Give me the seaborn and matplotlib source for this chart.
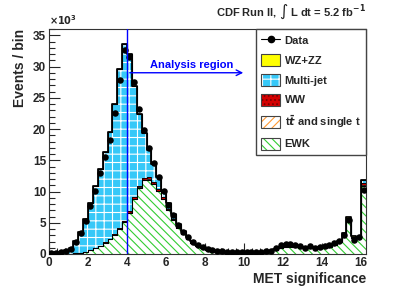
import numpy as np
import pandas as pd
import seaborn as sns
import matplotlib.pyplot as plt
from matplotlib.patches import Patch
from matplotlib.lines import Line2D
from matplotlib.ticker import MultipleLocator

# MET significance histogram, 0.25 wide bins from 0 to 16.25 (last = overflow), values in 10^3 events
data = [0.1, 0.2, 0.3, 0.5, 0.8, 1.9, 3.4, 5.3, 7.7, 10.1,
        12.9, 15.5, 18.3, 22.5, 27.9, 32.7, 31.6, 27.6, 23.2, 19.8,
        16.9, 14.6, 12.4, 10.1, 7.8, 6.2, 4.6, 3.5, 2.7, 2.0,
        1.4, 1.1, 0.8, 0.6, 0.5, 0.45, 0.4, 0.4, 0.35, 0.35,
        0.4, 0.35, 0.4, 0.4, 0.45, 0.55, 1.0, 1.4, 1.6, 1.6,
        1.5, 1.3, 1.0, 1.3, 1.0, 1.2, 1.3, 1.4, 1.7, 2.1,
        3.0, 5.4, 2.2, 2.8, 10.3]

ewk = [0, 0, 0, 0.02, 0.05, 0.1, 0.2, 0.35, 0.6, 0.9,
       1.3, 1.8, 2.4, 3.1, 4.0, 5.1, 6.6, 8.8, 10.6, 11.8,
       11.9, 11.2, 10.1, 8.8, 7.0, 5.5, 4.2, 3.2, 2.4, 1.8,
       1.3, 0.9, 0.6, 0.4, 0.3, 0.2, 0.15, 0.1, 0.1, 0.08,
       0.08, 0.1, 0.1, 0.15, 0.2, 0.4, 0.6, 0.9, 1.1, 1.2,
       1.1, 1.0, 0.9, 1.0, 0.9, 1.0, 1.0, 1.2, 1.4, 1.9,
       3.1, 5.6, 2.6, 2.5, 10.9]

ttbar = [0, 0, 0, 0, 0, 0, 0, 0, 0, 0,
         0.01, 0.01, 0.02, 0.02, 0.03, 0.03, 0.04, 0.04, 0.05, 0.05,
         0.05, 0.05, 0.05, 0.05, 0.05, 0.04, 0.04, 0.04, 0.03, 0.03,
         0.03, 0.03, 0.02, 0.02, 0.02, 0.02, 0.02, 0.02, 0.02, 0.02,
         0.02, 0.02, 0.02, 0.02, 0.02, 0.02, 0.03, 0.03, 0.03, 0.03,
         0.03, 0.03, 0.03, 0.03, 0.03, 0.03, 0.03, 0.03, 0.04, 0.04,
         0.05, 0.06, 0.05, 0.05, 0.15]

ww = [0, 0, 0, 0, 0, 0, 0, 0.01, 0.02, 0.03,
      0.04, 0.05, 0.06, 0.08, 0.1, 0.15, 0.2, 0.25, 0.3, 0.3,
      0.3, 0.25, 0.2, 0.2, 0.15, 0.1, 0.08, 0.06, 0.05, 0.04,
      0.03, 0.03, 0.02, 0.02, 0.02, 0.02, 0.02, 0.02, 0.02, 0.02,
      0.02, 0.02, 0.02, 0.02, 0.02, 0.02, 0.02, 0.03, 0.03, 0.03,
      0.03, 0.03, 0.03, 0.03, 0.03, 0.03, 0.03, 0.03, 0.03, 0.04,
      0.05, 0.08, 0.05, 0.05, 0.35]

multijet = [0.15, 0.25, 0.35, 0.58, 0.95, 2.0, 3.4, 5.25, 7.6, 9.9,
            12.2, 14.5, 17.0, 20.8, 25.5, 28.3, 25.1, 17.8, 11.45, 7.15,
            4.35, 2.9, 1.95, 0.95, 1.0, 0.8, 0.5, 0.35, 0.25, 0.15,
            0.1, 0.1, 0.1, 0.1, 0.1, 0.1, 0.12, 0.12, 0.12, 0.12,
            0.12, 0.12, 0.12, 0.12, 0.12, 0.1, 0.08, 0.08, 0.08, 0.08,
            0.08, 0.08, 0.08, 0.08, 0.08, 0.08, 0.08, 0.08, 0.08, 0.08,
            0.1, 0.1, 0.1, 0.1, 0.4]

wz_zz = [0, 0, 0, 0, 0, 0, 0, 0, 0, 0.01,
         0.01, 0.01, 0.01, 0.02, 0.02, 0.02, 0.03, 0.03, 0.03, 0.03,
         0.03, 0.03, 0.03, 0.02, 0.02, 0.02, 0.02, 0.02, 0.01, 0.01,
         0.01, 0.01, 0.01, 0.01, 0.01, 0.01, 0.01, 0.01, 0.01, 0.01,
         0.01, 0.01, 0.01, 0.01, 0.01, 0.01, 0.01, 0.01, 0.01, 0.01,
         0.01, 0.01, 0.01, 0.01, 0.01, 0.01, 0.01, 0.01, 0.01, 0.01,
         0.02, 0.02, 0.02, 0.02, 0.1]

bin_w = 0.25
x_max = 16.25
edges = np.arange(0, x_max + bin_w / 2, bin_w)
centers = (edges[:-1] + edges[1:]) / 2

sns.set_style('ticks')
plt.rcParams['font.family'] = ['Liberation Sans', 'DejaVu Sans']
plt.rcParams['font.weight'] = 'bold'
plt.rcParams['axes.labelweight'] = 'bold'
plt.rcParams['hatch.linewidth'] = 0.8

fig = plt.figure(figsize=(4.07, 2.89), dpi=100)
ax = fig.add_axes([49 / 407, 35 / 289, 317 / 407, 225 / 289])

# stack order bottom -> top (name, values, face, hatch colour, hatch)
stack = [
    ('EWK', ewk, 'white', '#33cc33', '\\\\\\\\'),
    (r't$\bar{t}$ and single t', ttbar, 'white', '#ff9933', '////'),
    ('WW', ww, '#d40000', '#7a0000', '....'),
    ('Multi-jet', multijet, '#36c8f8', 'white', '++'),
    ('WZ+ZZ', wz_zz, '#ffff00', '#555555', ''),
]
tops = np.cumsum([np.array(s[1], dtype=float) for s in stack], axis=0)


def step_hist(top, **kw):
    df = pd.DataFrame({'met': centers, 'w': top})
    sns.histplot(data=df, x='met', weights='w', binwidth=bin_w, binrange=(0, x_max),
                 element='step', ax=ax, **kw)


# painter's order: highest cumulative first
for (name, vals, face, hcol, hatch), top in reversed(list(zip(stack, tops))):
    step_hist(top, fill=True, color=face, alpha=1, linewidth=0)
    poly = ax.collections[-1]
    poly.set_facecolor(face)
    poly.set_edgecolor(hcol)
    poly.set_hatch(hatch)
    poly.set_linewidth(0)

for top, lw in zip(tops, [0.8, 0.6, 0.6, 0.8, 1.3]):
    step_hist(top, fill=False, color='black', linewidth=lw)

data = np.array(data)
ax.errorbar(centers, data, yerr=np.sqrt(data * 1000) / 1000, fmt='none',
            ecolor='black', elinewidth=0.8, zorder=5)
sns.scatterplot(x=centers, y=data, color='black', s=22, linewidth=0, ax=ax, zorder=6)

ax.axvline(4, color='blue', lw=1, zorder=7)
ax.annotate('', xy=(10.1, 29), xytext=(4, 29),
            arrowprops=dict(arrowstyle='->', color='blue', lw=1), zorder=7)
ax.text(7.3, 30.3, 'Analysis region', color='blue', ha='center', va='center', fontsize=8)

ax.set_xlim(0, x_max)
ax.set_ylim(0, 36)
ax.xaxis.set_major_locator(MultipleLocator(2))
ax.xaxis.set_minor_locator(MultipleLocator(0.4))
ax.yaxis.set_major_locator(MultipleLocator(5))
ax.yaxis.set_minor_locator(MultipleLocator(1))
ax.tick_params(which='major', direction='in', length=8, width=0.8, labelsize=8.5, pad=2)
ax.tick_params(which='minor', direction='in', length=4, width=0.8)
for sp in ax.spines.values():
    sp.set_linewidth(0.8)
    sp.set_color('#333333')

ax.set_ylabel('Events / bin', fontsize=10, loc='top', labelpad=4)
ax.set_xlabel('MET significance', fontsize=10, loc='right', labelpad=2)
ax.text(0.0, 1.01, r'$\times10^{3}$', transform=ax.transAxes, fontsize=7, ha='left', va='bottom')
ax.text(1.0, 1.035, r'CDF Run II, $\int$ L dt = 5.2 fb$^{-1}$', transform=ax.transAxes,
        ha='right', va='bottom', fontsize=8)

handles = [Line2D([0], [0], color='black', marker='o', markersize=4.5, lw=0.8)]
labels = ['Data']
for name, vals, face, hcol, hatch in reversed(stack):
    handles.append((Patch(facecolor=face, edgecolor=hcol, hatch=hatch, lw=0),
                    Patch(fill=False, edgecolor='#444444', lw=0.8)))
    labels.append(name)
ax.legend(handles, labels, loc='upper right', bbox_to_anchor=(1, 1), borderaxespad=0,
          fontsize=8, frameon=True, fancybox=False, framealpha=1, edgecolor='#444444',
          handlelength=1.7, handleheight=1.3, labelspacing=0.68, borderpad=0.5,
          handletextpad=0.4)

fig.savefig('out.png', dpi=100)
